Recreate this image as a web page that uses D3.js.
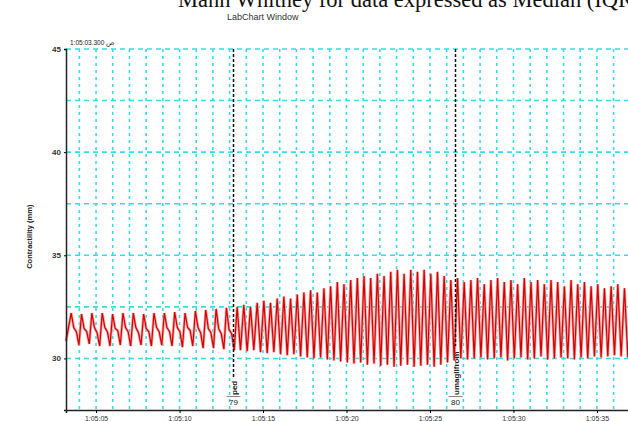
<!DOCTYPE html>
<html>
<head>
<meta charset="utf-8">
<script src="https://cdn.jsdelivr.net/npm/d3@7"></script>
<style>
  body { margin: 0; background: #fff; }
  svg { display: block; }
</style>
</head>
<body>
<div id="chart"></div>
<script>
// time in seconds after 1:05:00
const startTime = 3.2;
const endTime = 37.1;

// baseline segment, sampled every 0.155 s (peak, fall, shoulder, trough ...)
const seg1Start = 3.2;
const seg1Step = 0.155;
const seg1Values = [30.85, 31.5,
  32.2, 31.5, 31.3, 30.65,
  32.15, 31.45, 31.3, 30.7,
  32.2, 31.5, 31.25, 30.6,
  32.2, 31.5, 31.3, 30.6,
  32.15, 31.45, 31.35, 30.65,
  32.2, 31.5, 31.3, 30.6,
  32.2, 31.5, 31.25, 30.65,
  32.15, 31.45, 31.3, 30.6,
  32.2, 31.5, 31.3, 30.65,
  32.2, 31.5, 31.3, 30.6,
  32.25, 31.5, 31.3, 30.55,
  32.2, 31.5, 31.35, 30.6,
  32.3, 31.5, 31.25, 30.5,
  32.35, 31.45, 31.25, 30.5,
  32.4, 31.45, 31.2, 30.45,
  32.45, 31.4, 31.2, 30.4];

// after comment 79: one peak and one trough per beat, beat every 0.40 s
const seg2Start = 13.45;
const seg2Step = 0.2;
const seg2Peaks = [32.5, 32.6, 32.5, 32.7, 32.8, 32.7, 32.9, 33.0, 32.9, 33.1,
  33.2, 33.3, 33.2, 33.4, 33.5, 33.7, 33.6, 33.8, 33.9, 34.0,
  33.9, 34.1, 34.0, 34.2, 34.3, 34.1, 34.3, 34.2, 34.3, 34.1,
  34.2, 34.0, 33.8, 33.9, 33.7, 33.8, 33.9, 33.6, 33.8, 33.9,
  33.7, 33.8, 33.6, 33.9, 33.7, 33.8, 33.6, 33.8, 33.7, 33.5,
  33.8, 33.6, 33.7, 33.5, 33.6, 33.4, 33.5, 33.6, 33.4, 33.5];
const seg2Troughs = [30.4, 30.35, 30.4, 30.3, 30.25, 30.3, 30.2, 30.15, 30.2, 30.1,
  30.05, 30.0, 30.05, 29.95, 29.9, 29.85, 29.8, 29.75, 29.8, 29.7,
  29.75, 29.65, 29.7, 29.6, 29.65, 29.7, 29.6, 29.65, 29.7, 29.6,
  29.7, 29.8, 29.9, 30.0, 29.95, 30.0, 30.05, 29.95, 30.0, 30.05,
  29.9, 30.0, 30.05, 29.95, 30.0, 30.1, 29.95, 30.0, 30.05, 30.0,
  29.95, 30.05, 30.0, 30.1, 30.05, 30.1, 30.15, 30.1, 30.05, 30.15];

// comments
const comments = [
  { time: 13.22, num: "79", text: "ped", lineEnd: 378 },
  { time: 26.5, num: "80", text: "umaglifrom", lineEnd: 346 }
];

const xTicks = [5, 10, 15, 20, 25, 30, 35];
const yTicks = [30, 35, 40, 45];
const yGrid = [30, 32.5, 35, 37.5, 40, 42.5, 45];

function drawChart() {
    const width = 628;
    const height = 421;

    const svg = d3.select("#chart")
        .append("svg")
        .attr("width", width)
        .attr("height", height);

    const x = d3.scaleLinear().domain([startTime, endTime]).range([66, 632]);
    const y = d3.scaleLinear().domain([27.5, 45]).range([410, 49]);

    // build the sampled trace
    const trace = [];
    seg1Values.forEach((v, i) => trace.push({ t: seg1Start + i * seg1Step, v: v }));
    seg2Peaks.forEach((p, i) => {
        trace.push({ t: seg2Start + 2 * i * seg2Step, v: p });
        trace.push({ t: seg2Start + (2 * i + 1) * seg2Step, v: seg2Troughs[i] });
    });

    // titles
    svg.append("text")
        .attr("x", 178)
        .attr("y", 7)
        .style("font-family", "'Liberation Serif', 'Times New Roman', serif")
        .style("font-size", "22.5px")
        .attr("fill", "#111")
        .text("Mann Whitney for data expressed as Median (IQR)");

    svg.append("text")
        .attr("x", 227)
        .attr("y", 20)
        .style("font-family", "'Liberation Sans', Arial, sans-serif")
        .style("font-size", "9px")
        .attr("fill", "#333")
        .text("LabChart Window");

    svg.append("text")
        .attr("x", 70)
        .attr("y", 45)
        .style("font-family", "'Liberation Sans', Arial, sans-serif")
        .style("font-size", "6.5px")
        .attr("fill", "#222")
        .text("1:05:03.300 ص");

    // grid
    const grid = svg.append("g");
    grid.selectAll(".vgrid")
        .data(d3.range(4, 38))
        .enter()
        .append("line")
        .attr("x1", d => x(d))
        .attr("x2", d => x(d))
        .attr("y1", y(45))
        .attr("y2", y(27.5))
        .attr("stroke", "#38dce8")
        .attr("stroke-width", 1.6)
        .attr("stroke-dasharray", "3,4");

    grid.selectAll(".hgrid")
        .data(yGrid)
        .enter()
        .append("line")
        .attr("x1", x(startTime))
        .attr("x2", width)
        .attr("y1", d => y(d))
        .attr("y2", d => y(d))
        .attr("stroke", "#38dce8")
        .attr("stroke-width", 1.6)
        .attr("stroke-dasharray", "5,4");

    // signal: soft pink under-stroke, then the red trace
    const line = d3.line()
        .x(d => x(d.t))
        .y(d => y(d.v));

    svg.append("path")
        .datum(trace)
        .attr("d", line)
        .attr("fill", "none")
        .attr("stroke", "#f3a3a3")
        .attr("stroke-width", 2.8);

    svg.append("path")
        .datum(trace)
        .attr("d", line)
        .attr("fill", "none")
        .attr("stroke", "#d60000")
        .attr("stroke-width", 1.2);

    // comment markers
    comments.forEach(c => {
        const cx = Math.round(x(c.time)) + 0.5;
        svg.append("line")
            .attr("x1", cx)
            .attr("x2", cx)
            .attr("y1", y(45))
            .attr("y2", c.lineEnd)
            .attr("stroke", "#111")
            .attr("stroke-width", 1.5)
            .attr("stroke-dasharray", "3,2");

        svg.append("text")
            .attr("transform", `translate(${cx + 3},395) rotate(-90)`)
            .style("font-family", "'Liberation Sans', Arial, sans-serif")
            .style("font-size", "8px")
            .style("font-weight", "bold")
            .attr("fill", "#222")
            .text(c.text);

        svg.append("line")
            .attr("x1", cx - 7)
            .attr("x2", cx + 7)
            .attr("y1", 396.5)
            .attr("y2", 396.5)
            .attr("stroke", "#888")
            .attr("stroke-width", 1);

        svg.append("text")
            .attr("x", cx)
            .attr("y", 405)
            .attr("text-anchor", "middle")
            .style("font-family", "'Liberation Sans', Arial, sans-serif")
            .style("font-size", "8px")
            .attr("fill", "#222")
            .text(c.num);
    });

    // axes
    const yAxis = svg.append("g")
        .attr("transform", `translate(${x(startTime)},0)`)
        .call(d3.axisLeft(y).tickValues(yTicks).tickSize(2).tickFormat(d3.format("d")));
    yAxis.select(".domain").attr("stroke", "#222").attr("stroke-width", 1.5);
    yAxis.selectAll("text")
        .style("font-family", "'Liberation Sans', Arial, sans-serif")
        .style("font-size", "8px")
        .style("font-weight", "bold")
        .attr("fill", "#333");

    const xAxis = svg.append("g")
        .attr("transform", `translate(0,${y(27.5)})`)
        .call(d3.axisBottom(x).tickValues(xTicks).tickSize(3)
            .tickFormat(d => "1:05:" + String(d).padStart(2, "0")));
    xAxis.select(".domain").attr("stroke", "#222").attr("stroke-width", 1.5);
    xAxis.selectAll("text")
        .attr("y", 6)
        .attr("dy", "0.71em")
        .style("font-family", "'Liberation Sans', Arial, sans-serif")
        .style("font-size", "7px")
        .attr("fill", "#333");

    svg.append("text")
        .attr("transform", `translate(32,${y(35.9)}) rotate(-90)`)
        .attr("text-anchor", "middle")
        .style("font-family", "'Liberation Sans', Arial, sans-serif")
        .style("font-size", "7.5px")
        .style("font-weight", "bold")
        .attr("fill", "#222")
        .text("Contractility (mm)");
}

document.addEventListener("DOMContentLoaded", function(event) {
    drawChart();
});
</script>
</body>
</html>
